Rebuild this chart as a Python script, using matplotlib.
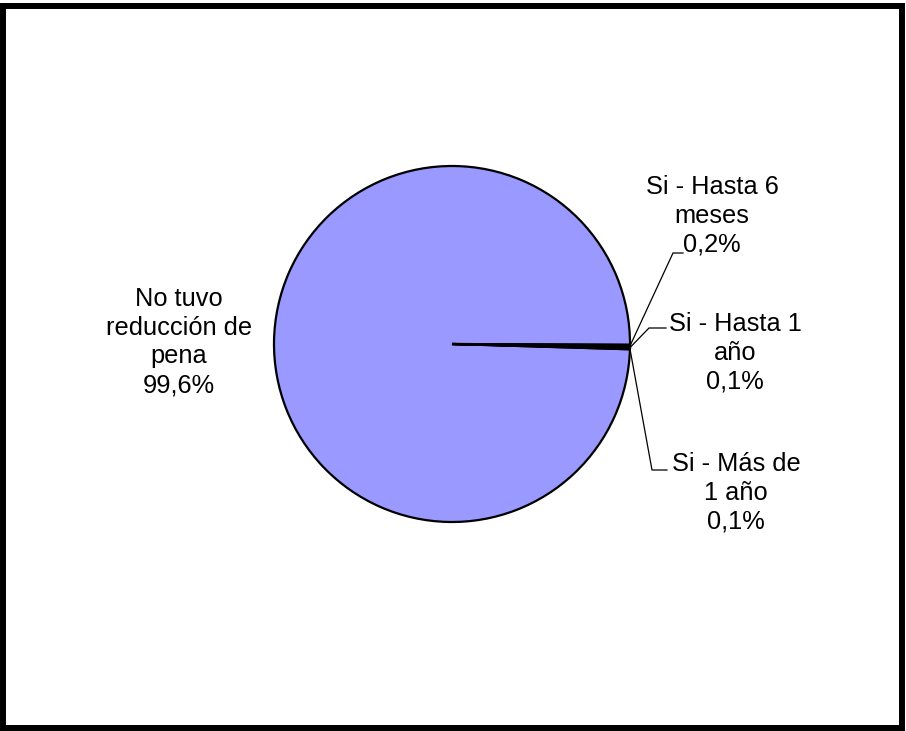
import matplotlib
matplotlib.use('Agg')
import numpy as np
import matplotlib.pyplot as plt
from matplotlib.patches import Rectangle

plt.rcParams['font.family'] = ['Liberation Sans', 'DejaVu Sans']

labels = ['No tuvo\nreducción de\npena', 'Si - Hasta 6\nmeses', 'Si - Hasta 1\naño', 'Si - Más de\n1 año']
values = [99.6, 0.2, 0.1, 0.1]
pct_text = ['99,6%', '0,2%', '0,1%', '0,1%']

W, H = 906, 731
fig = plt.figure(figsize=(W/100, H/100), dpi=100)

# pie centre / radius in pixels
cx, cy, R = 452, 344, 178
ax = fig.add_axes([(cx-R)/W, 1-(cy+R)/H, 2*R/W, 2*R/H])
wedges, _ = ax.pie(values, startangle=-1.7, counterclock=False, radius=1,
                   colors=['#9999FF', '#9999FF', '#9999FF', '#9999FF'],
                   wedgeprops=dict(edgecolor='black', linewidth=1.6))
ax.set_xlim(-1, 1)
ax.set_ylim(-1, 1)
ax.set_aspect('equal')
ax.axis('off')

def px(x, y):
    return ((x-cx)/R, (cy-y)/R)

# label positions (pixels) and leader elbows
text_pos = [(179, 342), (712, 216), (735, 353), (736, 493)]
elbows = [None, ((673, 253), (683, 253)), ((649, 328), (666, 328)), ((652, 470), (667, 470))]

for i, w in enumerate(wedges):
    tx, ty = px(*text_pos[i])
    ax.text(tx, ty, labels[i]+'\n'+pct_text[i], ha='center', va='center',
            fontsize=18.3, linespacing=1.26, clip_on=False)
    if elbows[i] is not None:
        mid = np.deg2rad((w.theta1+w.theta2)/2)
        ex, ey = np.cos(mid), np.sin(mid)
        (ax1x, ax1y), (bx, by) = px(*elbows[i][0]), px(*elbows[i][1])
        ax.plot([ex, ax1x, bx], [ey, ax1y, by], color='black', lw=0.9,
                clip_on=False, solid_joinstyle='miter')

fig.patches.append(Rectangle((3/W, 3/H), 899/W, 722/H, transform=fig.transFigure,
                             fill=False, edgecolor='black', linewidth=4.3))

fig.savefig('out.png', dpi=100)
